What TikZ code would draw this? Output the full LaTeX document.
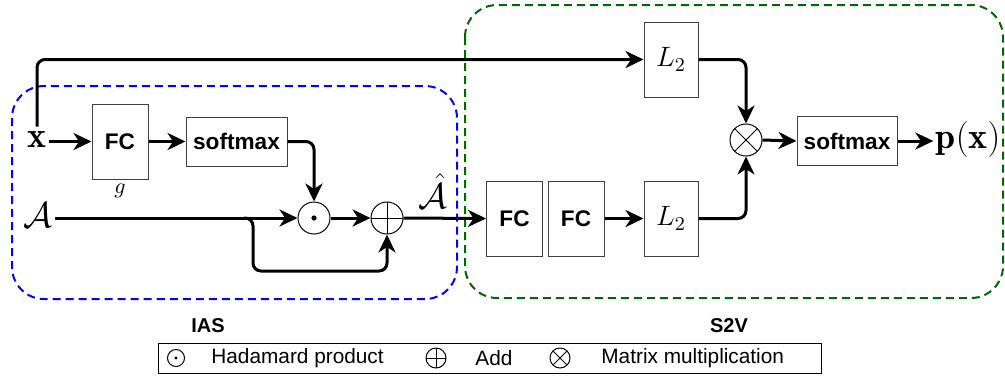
\RequirePackage{fix-cm}
\documentclass[tikz,border=0pt]{standalone}
\usepackage{amsmath}
\usepackage{fontspec}
\setsansfont{Liberation Sans}
\usetikzlibrary{arrows.meta,calc}
\definecolor{iasblue}{RGB}{0,0,255}
\definecolor{svgreen}{RGB}{0,102,0}
\tikzset{
  box/.style={draw=black!75, line width=0.5pt, minimum width=#1, minimum height=37.5pt,
    inner sep=0pt, font=\sffamily\bfseries\fontsize{11.3}{13}\selectfont},
  box/.default=28pt,
  mlbl/.style={inner sep=1pt, font=\fontsize{18}{20}\selectfont},
  op/.style={circle, draw, line width=0.5pt, minimum size=16pt, inner sep=0pt},
  hadamard/.style={path picture={\fill (path picture bounding box.center) circle (#1);}},
  hadamard/.default=1.3pt,
  addop/.style={path picture={
    \draw[line width=0.5pt] (path picture bounding box.north) -- (path picture bounding box.south);
    \draw[line width=0.5pt] (path picture bounding box.west) -- (path picture bounding box.east);}},
  matmul/.style={path picture={
    \draw[line width=0.5pt] (path picture bounding box.north west) -- (path picture bounding box.south east);
    \draw[line width=0.5pt] (path picture bounding box.north east) -- (path picture bounding box.south west);}},
  conn/.style={line width=1.5pt, rounded corners=4pt, -{Stealth[length=9pt,width=8.5pt,inset=2.8pt]}},
  grp/.style={line width=1pt, dash pattern=on 4pt off 2.5pt, rounded corners=16pt},
  grplbl/.style={font=\sffamily\bfseries\fontsize{10}{12}\selectfont},
  leg/.style={font=\sffamily\fontsize{10.4}{12}\selectfont, anchor=west, inner sep=0pt}
}
\begin{document}
\begin{tikzpicture}[x=0.5pt,y=-0.5pt]
\useasboundingbox (0,0) rectangle (1005,377);
% the two groups
\draw[grp, draw=iasblue] (12,86) rectangle (457,299);
\draw[grp, draw=svgreen] (465,5) rectangle (1003,298);
\node[grplbl] (ias) at (208,326) {IAS};
\node[grplbl] (s2v) at (729,326) {S2V};
% IAS
\node[mlbl] (x) at (37,139) {$\mathbf{x}$};
\node[box] (fcg) at (120,141.5) {FC};
\node[inner sep=0pt, font=\fontsize{11}{13}\selectfont] (g) at (120,191) {$g$};
\node[box=50.5pt, minimum height=24.5pt] (sm1) at (236.5,141.5) {softmax};
\node[mlbl] (A) at (38,215) {$\mathcal{A}$};
\node[op, hadamard] (had) at (314,218) {};
\node[op, addop] (add) at (387,218) {};
\node[mlbl] (Ahat) at (433,191) {$\hat{\mathcal{A}}$};
\coordinate (br) at (244,218);
\coordinate (bb) at (253,271);
% S2V
\node[box] (fc2) at (514.5,218.5) {FC};
\node[box] (fc3) at (576,218.5) {FC};
\node[box=27pt, font=\fontsize{14}{16}\selectfont] (l2a) at (671,59.5) {$L_2$};
\node[box=27pt, font=\fontsize{14}{16}\selectfont] (l2b) at (671,218.5) {$L_2$};
\node[op, matmul] (mul) at (746,140) {};
\node[box=50pt, minimum height=24.5pt] (sm2) at (847,141) {softmax};
\node[mlbl] (px) at (968,139) {$\mathbf{p}(\mathbf{x})$};
% connectors
\draw[conn] ($(x.north)+(0,-2)$) |- (l2a.west);
\draw[conn] (x.east |- fcg.west) -- (fcg.west);
\draw[conn] (fcg.east) -- (sm1.west);
\draw[conn] (sm1.east) -| (had.north);
\draw[conn] (A.east |- had.west) -- (had.west);
\draw[conn] (br) -| (bb) -| (add.south);
\draw[conn] (had.east) -- (add.west);
\draw[conn] (add.east) -- (fc2.west);
\draw[conn] (fc3.east) -- (l2b.west);
\draw[conn] (l2a.east) -| (mul.north);
\draw[conn] (l2b.east) -| (mul.south);
\draw[conn] (mul.east) -- (sm2.west);
\draw[conn] (sm2.east) -- (px.west |- sm2.east);
% legend
\draw[line width=0.5pt] (158,343) rectangle (821,373);
\node[op, minimum size=8.5pt, hadamard=0.8pt] (lhad) at (176,358) {};
\node[leg] (thad) at (211,358) {Hadamard product};
\node[op, minimum size=10pt, addop] (ladd) at (436,358) {};
\node[leg] (tadd) at (475,358) {Add};
\node[op, minimum size=10pt, matmul] (lmul) at (560,358) {};
\node[leg] (tmul) at (601,358) {Matrix multiplication};
\end{tikzpicture}
\end{document}
